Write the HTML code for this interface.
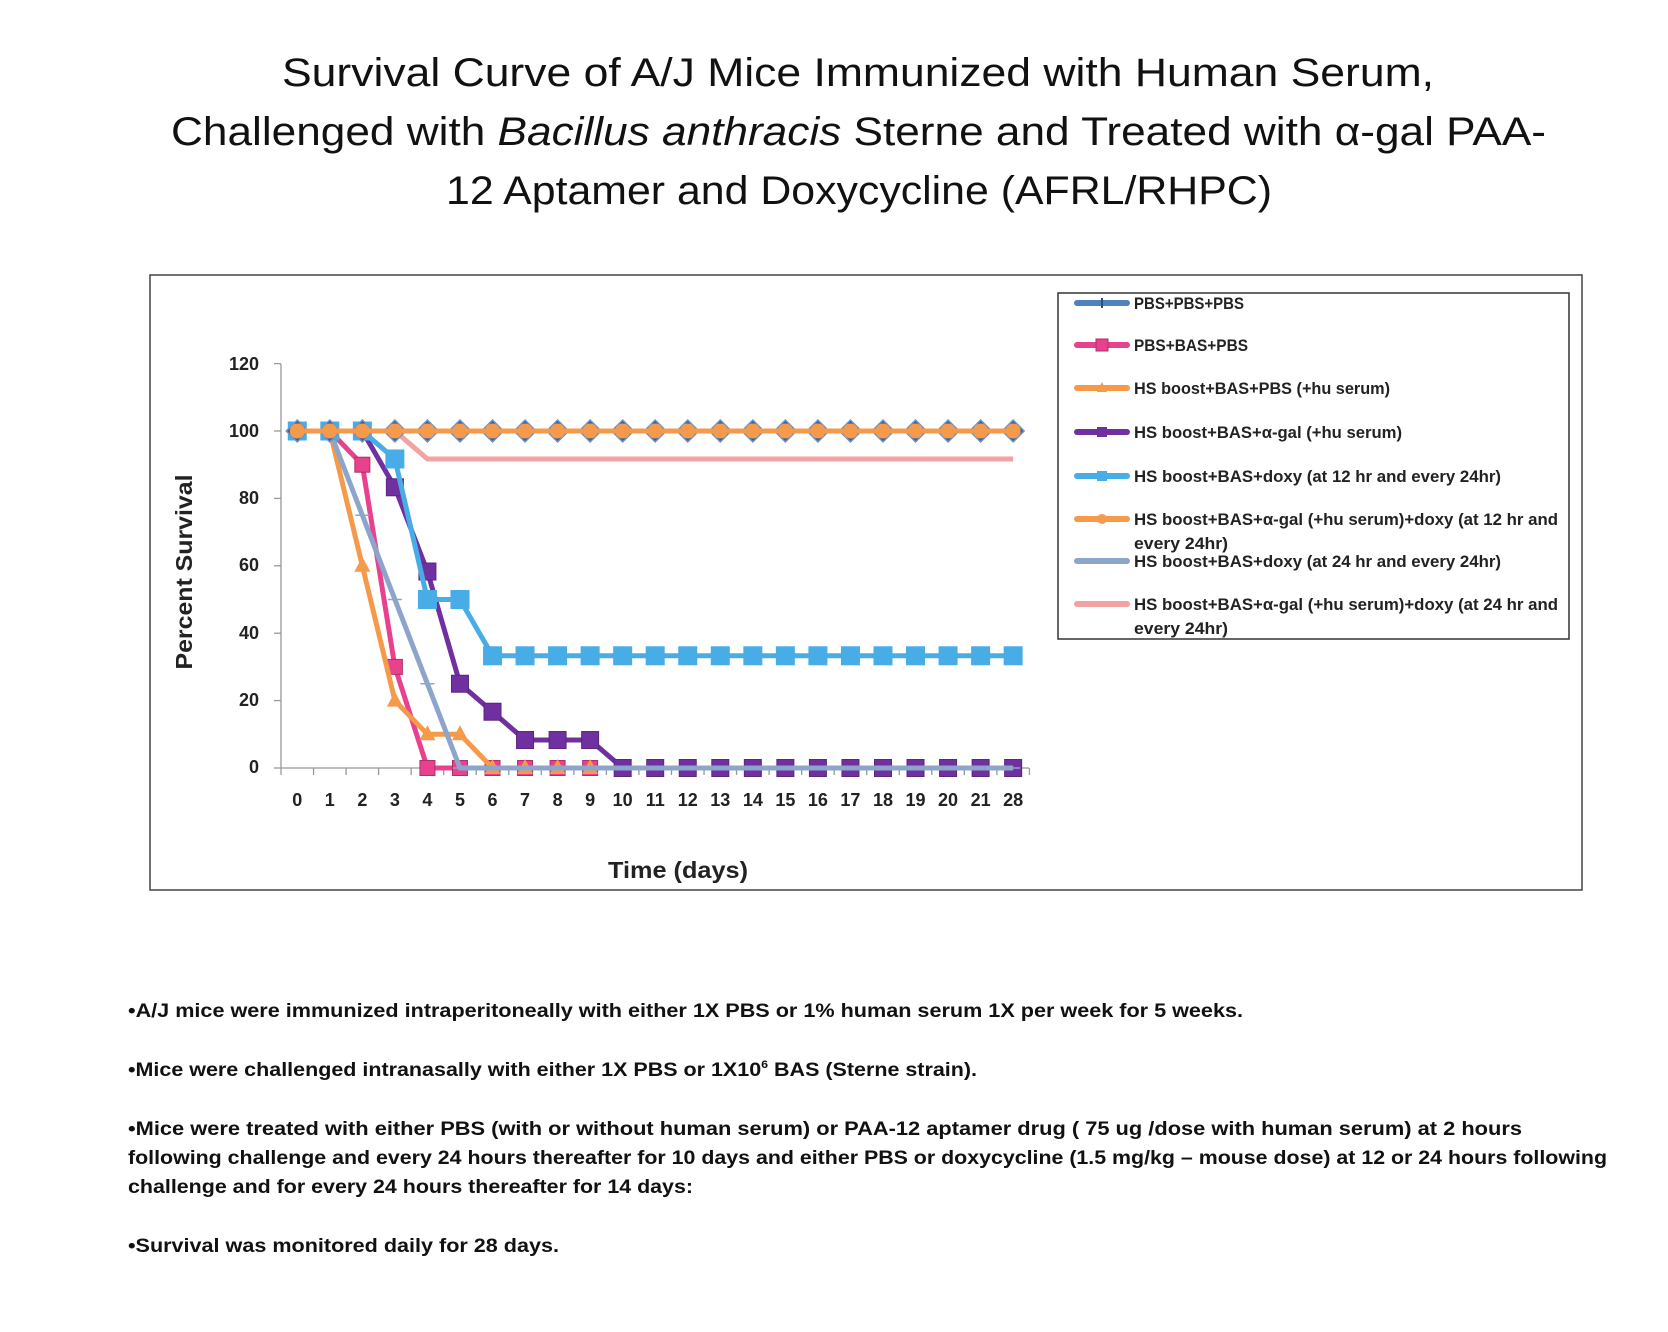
<!DOCTYPE html>
<html><head><meta charset="utf-8"><style>
html,body{margin:0;padding:0;background:#fff;}
svg{display:block;}
</style></head><body>
<svg id="s" width="1668" height="1332" viewBox="0 0 1668 1332" xmlns="http://www.w3.org/2000/svg" font-family="Liberation Sans, sans-serif">
<rect width="1668" height="1332" fill="#fff"/>
<g font-size="40" fill="#111" text-anchor="start">
<text x="282" y="86" textLength="1152" lengthAdjust="spacingAndGlyphs">Survival Curve of A/J Mice Immunized with Human Serum,</text>
<text x="171" y="145" textLength="1375" lengthAdjust="spacingAndGlyphs">Challenged with <tspan font-style="italic">Bacillus anthracis</tspan> Sterne and Treated with α-gal PAA-</text>
<text x="446" y="204" textLength="826" lengthAdjust="spacingAndGlyphs">12 Aptamer and Doxycycline (AFRL/RHPC)</text>
</g>
<rect x="150" y="275" width="1432" height="615" fill="#fff" stroke="#444" stroke-width="1.5"/>
<rect x="1058" y="293" width="511" height="346" fill="#fff" stroke="#333" stroke-width="1.5"/>
<g id="axes" stroke="#999" stroke-width="1.3">
<line x1="281" y1="364" x2="281" y2="768"/>
<line x1="281" y1="768" x2="1029" y2="768"/>
</g>
<g id="ticks" stroke="#999" stroke-width="1.3"></g>
<g font-size="18" font-weight="bold" fill="#222" text-anchor="end">
<text x="259" y="370">120</text><text x="259" y="437">100</text><text x="259" y="504">80</text><text x="259" y="571">60</text><text x="259" y="639">40</text><text x="259" y="706">20</text><text x="259" y="773">0</text>
</g>
<g id="xl" font-size="18" font-weight="bold" fill="#222" text-anchor="middle">
<text x="297" y="806">0</text><text x="329" y="806">1</text><text x="362" y="806">2</text><text x="395" y="806">3</text><text x="427" y="806">4</text><text x="460" y="806">5</text><text x="493" y="806">6</text><text x="525" y="806">7</text><text x="558" y="806">8</text><text x="591" y="806">9</text><text x="623" y="806">10</text><text x="656" y="806">11</text><text x="689" y="806">12</text><text x="722" y="806">13</text><text x="754" y="806">14</text><text x="787" y="806">15</text><text x="820" y="806">16</text><text x="852" y="806">17</text><text x="885" y="806">18</text><text x="918" y="806">19</text><text x="950" y="806">20</text><text x="983" y="806">21</text><text x="1016" y="806">28</text>
</g>
<text x="678" y="878" font-size="23" font-weight="bold" fill="#222" text-anchor="middle" textLength="140" lengthAdjust="spacingAndGlyphs">Time (days)</text>
<text transform="translate(192,572) rotate(-90)" font-size="23" font-weight="bold" fill="#222" text-anchor="middle" textLength="195" lengthAdjust="spacingAndGlyphs">Percent Survival</text>
<g id="series"></g>
<g id="leg"></g>
<g font-size="17" font-weight="bold" fill="#222">
<text x="1134" y="309" textLength="110" lengthAdjust="spacingAndGlyphs">PBS+PBS+PBS</text>
<text x="1134" y="351" textLength="114" lengthAdjust="spacingAndGlyphs">PBS+BAS+PBS</text>
<text x="1134" y="394" textLength="256" lengthAdjust="spacingAndGlyphs">HS boost+BAS+PBS (+hu serum)</text>
<text x="1134" y="438" textLength="268" lengthAdjust="spacingAndGlyphs">HS boost+BAS+α-gal (+hu serum)</text>
<text x="1134" y="482" textLength="367" lengthAdjust="spacingAndGlyphs">HS boost+BAS+doxy (at 12 hr and every 24hr)</text>
<text x="1134" y="525" textLength="424" lengthAdjust="spacingAndGlyphs">HS boost+BAS+α-gal (+hu serum)+doxy (at 12 hr and</text>
<text x="1134" y="549" textLength="94" lengthAdjust="spacingAndGlyphs">every 24hr)</text>
<text x="1134" y="567" textLength="367" lengthAdjust="spacingAndGlyphs">HS boost+BAS+doxy (at 24 hr and every 24hr)</text>
<text x="1134" y="610" textLength="424" lengthAdjust="spacingAndGlyphs">HS boost+BAS+α-gal (+hu serum)+doxy (at 24 hr and</text>
<text x="1134" y="634" textLength="94" lengthAdjust="spacingAndGlyphs">every 24hr)</text>
</g>
<g font-size="19" font-weight="bold" fill="#111">
<text x="128" y="1017" textLength="1115" lengthAdjust="spacingAndGlyphs">•A/J mice were immunized intraperitoneally with either 1X PBS or 1% human serum 1X per week for 5 weeks.</text>
<text x="128" y="1076" textLength="849" lengthAdjust="spacingAndGlyphs">•Mice were challenged intranasally with either 1X PBS or 1X10<tspan font-size="11" dy="-8">6</tspan><tspan dy="8"> BAS (Sterne strain).</tspan></text>
<text x="128" y="1135" textLength="1394" lengthAdjust="spacingAndGlyphs">•Mice were treated with either PBS (with or without human serum) or PAA-12 aptamer drug ( 75 ug /dose with human serum) at 2 hours</text>
<text x="128" y="1164" textLength="1479" lengthAdjust="spacingAndGlyphs">following challenge and every 24 hours thereafter for 10 days and either PBS or doxycycline (1.5 mg/kg – mouse dose) at 12 or 24 hours following</text>
<text x="128" y="1193" textLength="565" lengthAdjust="spacingAndGlyphs">challenge and for every 24 hours thereafter for 14 days:</text>
<text x="128" y="1252" textLength="431" lengthAdjust="spacingAndGlyphs">•Survival was monitored daily for 28 days.</text>
</g>
</svg>
<script>
(function(){
var NS="http://www.w3.org/2000/svg";
var ST=32.54;
function X(i){return 281+ST/2+ST*i;}
function Y(v){return 768-3.37*v;}
function el(p,t,a){var e=document.createElementNS(NS,t);for(var k in a)e.setAttribute(k,a[k]);p.appendChild(e);return e;}
var xl=document.getElementById("xl").children;
for(var j=0;j<xl.length;j++)xl[j].setAttribute("x",X(j));
var tk=document.getElementById("ticks");
for(var i=0;i<=23;i++){var x=281+ST*i;el(tk,"line",{x1:x,y1:768,x2:x,y2:775});}
[0,20,40,60,80,100,120].forEach(function(v){el(tk,"line",{x1:274,y1:Y(v),x2:281,y2:Y(v)});});
function arr(a,fill){var r=a.slice();while(r.length<23)r.push(fill);return r;}
var S=[
 {c:"#F2A2A0",d:arr([100,100,100,100,91.7],91.7),m:"none"},
 {c:"#E8428F",d:arr([100,100,90,30,0],0),m:"sq",mc:"#E8428F",ms:"#B02F6A",sz:15},
 {c:"#F59A4A",d:arr([100,100,60,20,10,10,0],0),m:"tri",mc:"#F59A4A"},
 {c:"#7030A0",d:arr([100,100,100,83.3,58.3,25,16.7,8.3,8.3,8.3,0],0),m:"sq",mc:"#7030A0",ms:"#5a2680",sz:17},
 {c:"#8EA5CB",d:arr([100,100,75,50,25,0],0),m:"plus"},
 {c:"#48ADE6",d:arr([100,100,100,91.7,50,50,33.3],33.3),m:"sq",mc:"#48ADE6",ms:"#48ADE6",sz:18},
 {c:"#4F81BD",d:arr([100],100),m:"dia",mc:"#4F81BD"},
 {c:"#F59A4A",d:arr([100],100),m:"circ",mc:"#F59A4A"}
];
var g=document.getElementById("series");
function marker(p,s,x,y){
 if(s.m=="sq"){var h=s.sz/2;el(p,"rect",{x:x-h,y:y-h,width:s.sz,height:s.sz,fill:s.mc,stroke:s.ms,"stroke-width":1});}
 else if(s.m=="tri"){el(p,"polygon",{points:(x)+","+(y-9)+" "+(x+8)+","+(y+6)+" "+(x-8)+","+(y+6),fill:s.mc});}
 else if(s.m=="dia"){el(p,"polygon",{points:x+","+(y-11)+" "+(x+11)+","+y+" "+x+","+(y+11)+" "+(x-11)+","+y,fill:"#3A5F8F",stroke:"#6E95C8","stroke-width":1.5});}
 else if(s.m=="circ"){el(p,"circle",{cx:x,cy:y,r:7.5,fill:s.mc});}
 else if(s.m=="plus"){el(p,"line",{x1:x-7,y1:y,x2:x+7,y2:y,stroke:"#8EA5CB","stroke-width":1.5});}
}
S.forEach(function(s){
 var pts=s.d.map(function(v,i){return X(i)+","+Y(v);}).join(" ");
 el(g,"polyline",{points:pts,fill:"none",stroke:s.c,"stroke-width":5,"stroke-linejoin":"round"});
 if(s.m!="none")s.d.forEach(function(v,i){marker(g,s,X(i),Y(v));});
});
var L=document.getElementById("leg");
var ly=[303,345,388,432,476,519,561,604];
var lc=[["#4F81BD","plusd"],["#E8428F","sq"],["#F59A4A","t"],["#7030A0","sqd"],["#48ADE6","sqb"],["#F59A4A","c"],["#8EA5CB","p"],["#F2A2A0","n"]];
lc.forEach(function(o,i){var y=ly[i];
 el(L,"line",{x1:1077,y1:y,x2:1127,y2:y,stroke:o[0],"stroke-width":6,"stroke-linecap":"round"});
 if(o[1]=="sq")el(L,"rect",{x:1096,y:y-6,width:12,height:12,fill:o[0],stroke:"#B02F6A"});
 if(o[1]=="sqd"||o[1]=="sqb")el(L,"rect",{x:1097,y:y-5,width:10,height:10,fill:o[0]});
 if(o[1]=="c")el(L,"circle",{cx:1102,cy:y,r:5,fill:o[0]});
 if(o[1]=="t")el(L,"polygon",{points:"1102,"+(y-6)+" 1107,"+(y+4)+" 1097,"+(y+4),fill:o[0]});
 if(o[1]=="plusd")el(L,"line",{x1:1102,y1:y-5,x2:1102,y2:y+5,stroke:"#2E4F7A","stroke-width":2});
});
})();
</script>
</body></html>
